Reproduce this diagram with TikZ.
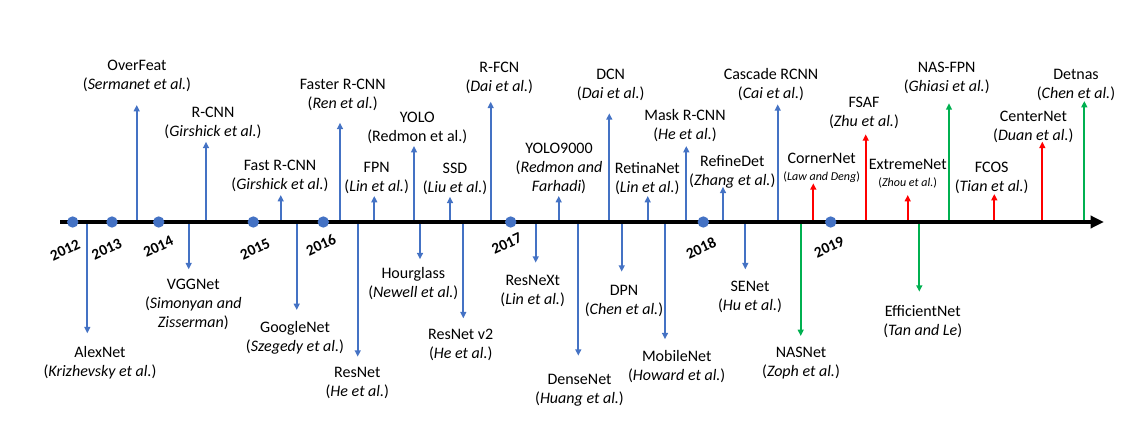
\documentclass[tikz,border=0pt]{standalone}
\usepackage{fontspec}
\setmainfont{Carlito}
\usetikzlibrary{arrows.meta}
\definecolor{evblue}{HTML}{4472C4}
\definecolor{evred}{HTML}{FF0000}
\definecolor{evgreen}{HTML}{00B050}
\tikzset{
  evline/.style={line width=1.4pt, -{Triangle[length=4.8pt,width=4.4pt]}},
  evtb/.style={evline, draw=evblue, fill=evblue},
  evtr/.style={evline, draw=evred, fill=evred},
  evtg/.style={evline, draw=evgreen, fill=evgreen},
  lbl/.style={align=center, inner sep=0pt, font=\fontsize{12}{14.25}\selectfont},
  yearlbl/.style={font=\bfseries\fontsize{11.5}{13}\selectfont, rotate=25, inner sep=0pt},
  timeaxis/.style={line width=3pt, -{Triangle[length=10pt,width=9pt]}},
  yeardot/.style={circle, fill=evblue, inner sep=0pt, minimum size=8.5pt},
}
% one event: name, style, x of the stem, y of the tip, label x, label y, label text
\newcommand\tlevent[7]{%
  \coordinate (#1-a) at (#3,222);
  \coordinate (#1-b) at (#3,#4);
  \draw[#2] (#1-a) -- (#1-b);
  \node[lbl] (#1) at (#5,#6) {#7};
}
\newcommand\smallit[1]{{\fontsize{9}{11}\selectfont(\textit{#1})}}
\begin{document}
\begin{tikzpicture}[x=0.75pt, y=-0.75pt]
\useasboundingbox (0,0) rectangle (1146,424);

% events above the axis
\tlevent{overfeat}{evtb}{136.7}{105}{137}{75.5}{OverFeat\\(\textit{Sermanet et al.})}
\tlevent{rcnn}{evtb}{206}{141.7}{213}{123}{R-CNN\\(\textit{Girshick et al.})}
\tlevent{fastrcnn}{evtb}{280.7}{195}{280}{175.5}{Fast R-CNN\\(\textit{Girshick et al.})}
\tlevent{fasterrcnn}{evtb}{340}{122.7}{342.7}{95}{Faster R-CNN\\(\textit{Ren et al.})}
\tlevent{fpn}{evtb}{374.3}{196}{376.7}{177.5}{FPN\\(\textit{Lin et al.})}
\tlevent{yolo}{evtb}{414}{146}{417.3}{127.5}{YOLO\\(Redmon et al.)}
\tlevent{ssd}{evtb}{450}{196.7}{455}{179}{SSD\\(\textit{Liu et al.})}
\tlevent{rfcn}{evtb}{490.7}{101.7}{499.3}{77.5}{R-FCN\\(\textit{Dai et al.})}
\tlevent{yolonine}{evtb}{558.7}{196}{559}{168.5}{YOLO9000\\(\textit{Redmon and}\\\textit{Farhadi})}
\tlevent{dcn}{evtb}{609.3}{113.3}{610.7}{85}{DCN\\(\textit{Dai et al.})}
\tlevent{retinanet}{evtb}{647.7}{196}{647.3}{178.5}{RetinaNet\\(\textit{Lin et al.})}
\tlevent{maskrcnn}{evtb}{686.3}{146}{685}{126}{Mask R-CNN\\(\textit{He et al.})}
\tlevent{refinedet}{evtb}{723}{186.7}{732.3}{171.5}{RefineDet\\(\textit{Zhang et al.})}
\tlevent{cascade}{evtb}{777.7}{104.3}{771}{85}{Cascade RCNN\\(\textit{Cai et al.})}
\tlevent{cornernet}{evtr}{813.3}{183.3}{821.7}{168}{CornerNet\\[-1.5pt]\smallit{Law and Deng}}
\tlevent{fsaf}{evtr}{865.7}{134.3}{864}{113}{FSAF\\(\textit{Zhu et al.})}
\tlevent{extremenet}{evtr}{907.7}{195}{907.7}{173.5}{ExtremeNet\\[-1.5pt]\smallit{Zhou et al.}}
\tlevent{nasfpn}{evtg}{949}{103.3}{946.7}{77.5}{NAS-FPN\\(\textit{Ghiasi et al.})}
\tlevent{fcos}{evtr}{994.3}{194}{991.7}{178}{FCOS\\(\textit{Tian et al.})}
\tlevent{centernet}{evtr}{1042.3}{141.7}{1033.3}{126.5}{CenterNet\\(\textit{Duan et al.})}
\tlevent{detnas}{evtg}{1084.3}{101}{1076}{84.5}{Detnas\\(\textit{Chen et al.})}

% events below the axis
\tlevent{alexnet}{evtb}{87.3}{333.3}{100}{363}{AlexNet\\(\textit{Krizhevsky et al.})}
\tlevent{vggnet}{evtb}{188.7}{269.3}{193.3}{304.5}{VGGNet\\(\textit{Simonyan and}\\\textit{Zisserman})}
\tlevent{googlenet}{evtb}{296.7}{310}{295}{338}{GoogleNet\\(\textit{Szegedy et al.})}
\tlevent{resnet}{evtb}{357.7}{356.7}{357.3}{383}{ResNet\\(\textit{He et al.})}
\tlevent{hourglass}{evtb}{420}{259.3}{413.3}{284}{Hourglass\\(\textit{Newell et al.})}
\tlevent{resnetvtwo}{evtb}{463.3}{318.3}{460.7}{344.5}{ResNet v2\\(\textit{He et al.})}
\tlevent{resnext}{evtb}{535.7}{262.7}{532.7}{290.5}{ResNeXt\\(\textit{Lin et al.})}
\tlevent{densenet}{evtb}{578.3}{355.7}{579.5}{390}{DenseNet\\(\textit{Huang et al.})}
\tlevent{dpn}{evtb}{621.7}{271.7}{624}{300.5}{DPN\\(\textit{Chen et al.})}
\tlevent{mobilenet}{evtb}{665}{339.3}{676.7}{367}{MobileNet\\(\textit{Howard et al.})}
\tlevent{senet}{evtb}{745.3}{269.3}{750}{296.5}{SENet\\(\textit{Hu et al.})}
\tlevent{nasnet}{evtg}{800.7}{336}{801}{363}{NASNet\\(\textit{Zoph et al.})}
\tlevent{efficientnet}{evtg}{919.3}{291.7}{922.7}{322}{EfficientNet\\(\textit{Tan and Le})}

% the time axis
\coordinate (axis-start) at (60,222);
\coordinate (axis-end) at (1104,222);
\draw[timeaxis] (axis-start) -- (axis-end);

% year marks
\foreach \yr/\dx/\lx/\ly in {2012/72.7/65/250, 2013/112/106.7/249, 2014/158.7/158.3/246.7,
    2015/253.3/255/249, 2016/323.3/321/245, 2017/510.7/506.7/243.5,
    2018/703.3/701/248, 2019/830.7/829/247}{
  \node[yeardot] (dot\yr) at (\dx,222) {};
  \node[yearlbl] (year\yr) at (\lx,\ly) {\yr};
}
\end{tikzpicture}
\end{document}
